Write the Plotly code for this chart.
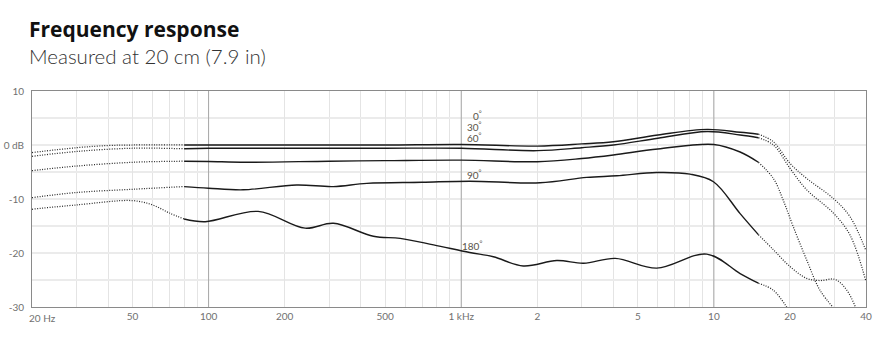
import numpy as np
import plotly.graph_objects as go

# ---------------- data ----------------
X_TICKS = [20, 50, 100, 200, 500, 1000, 2000, 5000, 10000, 20000, 40000]
X_TICK_LABELS = ["20 Hz", "50", "100", "200", "500", "1 kHz", "2", "5", "10", "20", "40"]
X_MINOR = [30, 40, 60, 70, 80, 90, 300, 400, 600, 700, 800, 900,
           3000, 4000, 6000, 7000, 8000, 9000, 30000]
X_MAJOR_GRID = [100, 1000, 10000]
Y_TICKS = [10, 0, -10, -20, -30]
Y_TICK_LABELS = ["10", "0 dB", "-10", "-20", "-30"]

SOLID_LO, SOLID_HI = 80, 15000   # measured (solid) range, dotted outside

F_0 = [20, 30, 40, 50, 80, 100, 200, 500, 1000, 2000, 3000, 4000, 6000, 9400,
       12700, 15000, 17200, 20000, 23300, 29700, 34600, 40000]
DB_0 = [-1.4, -0.5, -0.1, 0.0, 0.0, 0.0, 0.0, 0.0, 0.1, -0.2, 0.2, 0.6, 1.85, 2.9,
        2.35, 2.0, 0.6, -3.4, -6.2, -9.9, -13.3, -19.6]

F_30 = [20, 30, 50, 80, 100, 200, 500, 1000, 2000, 3000, 4000, 6000, 9400,
        12700, 15000, 17200, 20000, 23300, 29700, 34600, 40000]
DB_30 = [-2.1, -1.2, -0.6, -0.7, -0.6, -0.6, -0.6, -0.6, -1.05, -0.5, 0.0, 1.25, 2.5,
         1.85, 1.35, 0.0, -4.3, -8.3, -12.6, -16.7, -25.3]

F_60 = [20, 30, 50, 80, 100, 140, 300, 500, 1000, 2000, 3000, 4000, 6000, 10000,
        12700, 15000, 17200, 18800, 20600, 23300, 26300, 30200]
DB_60 = [-4.75, -3.9, -3.2, -3.0, -3.05, -3.2, -3.0, -2.9, -2.8, -3.1, -2.5, -1.85, -0.75, 0.1,
         -1.3, -3.2, -6.2, -10.2, -15.1, -21.3, -26.9, -30.5]

F_90 = [20, 30, 50, 80, 100, 137, 223, 311, 423, 700, 1080, 2050, 3140, 4130, 5940,
        8050, 9960, 12700, 15000, 17200, 20000, 23300, 26300, 30200, 33600, 36700]
DB_90 = [-9.75, -8.8, -8.2, -7.7, -8.0, -8.3, -7.4, -7.7, -7.1, -6.9, -6.7, -7.0, -6.0, -5.7, -5.1,
         -5.4, -6.8, -12.7, -16.6, -19.4, -22.5, -24.7, -25.1, -24.9, -26.9, -30.5]

F_180 = [20, 30, 50, 60, 70, 80, 97, 157, 241, 312, 449, 573, 777, 1080, 1340, 1760,
         2390, 3050, 4070, 5940, 9370, 12700, 15000, 17200, 19700]
DB_180 = [-11.9, -11.1, -10.3, -11.1, -12.6, -13.7, -14.2, -12.3, -15.4, -14.5, -16.9, -17.3,
          -18.5, -19.9, -20.7, -22.4, -21.4, -21.9, -21.0, -22.8, -20.2, -23.8, -25.6, -26.9, -30.5]

CURVE_F = [F_0, F_30, F_60, F_90, F_180]
CURVE_DB = [DB_0, DB_30, DB_60, DB_90, DB_180]
LABEL_TEXT = ["0", "30", "60", "90", "180"]
LABEL_DB = [5.4, 3.4, 1.4, -5.55, -18.7]
LABEL_F = 1230

TITLE = "Frequency response"
SUBTITLE = "Measured at 20 cm (7.9 in)"

# ---------------- geometry helpers ----------------
W, H = 885, 353
ML, MR, MT, MB = 32, 19, 91, 46
PW, PH = W - ML - MR, H - MT - MB


def px_x(px):
    return (px - ML) / PW


def px_y(py):
    return (H - MB - py) / PH


FONT = "Lato, 'Open Sans', sans-serif"

fig = go.Figure()

# darker decade grid lines
gx, gy = [], []
for f in X_MAJOR_GRID:
    gx += [f, f, None]
    gy += [-30, 10, None]
fig.add_trace(go.Scatter(x=gx, y=gy, mode="lines", line=dict(color="#a8a8a8", width=1),
                         hoverinfo="skip", showlegend=False))

for f_arr, db_arr in zip(CURVE_F, CURVE_DB):
    f_arr = np.array(f_arr, float)
    db_arr = np.array(db_arr, float)
    lo = f_arr <= SOLID_LO
    mid = (f_arr >= SOLID_LO) & (f_arr <= SOLID_HI)
    hi = f_arr >= SOLID_HI
    for mask, solid in ((lo, False), (mid, True), (hi, False)):
        if mask.sum() < 2:
            continue
        fig.add_trace(go.Scatter(
            x=f_arr[mask], y=db_arr[mask], mode="lines",
            line=dict(color="#1a1a1a" if solid else "#2a2a2a",
                      width=1.4 if solid else 1.25,
                      dash="solid" if solid else "1px,1.5px",
                      shape="spline", smoothing=1.0),
            hoverinfo="skip", showlegend=False))

ann = []
for t, d in zip(LABEL_TEXT, LABEL_DB):
    ann.append(dict(x=np.log10(LABEL_F), y=d, xref="x", yref="y",
                    text=t + "<sup>°</sup>", showarrow=False, xanchor="right",
                    yanchor="middle", font=dict(family=FONT, size=10, color="#5a5448")))

ann.append(dict(x=px_x(27), y=px_y(28.5), xref="paper", yref="paper", text="<b>" + TITLE + "</b>",
                showarrow=False, xanchor="left", yanchor="middle",
                font=dict(family="'Open Sans', Lato, sans-serif", size=21, color="#111111", weight=800)))
ann.append(dict(x=px_x(27), y=px_y(55.5), xref="paper", yref="paper", text=SUBTITLE,
                showarrow=False, xanchor="left", yanchor="middle",
                font=dict(family=FONT, size=20.5, color="#333333", weight=300)))
# first x tick label is left-aligned at the axis start
ann.append(dict(x=px_x(27), y=px_y(318), xref="paper", yref="paper", text=X_TICK_LABELS[0],
                showarrow=False, xanchor="left", yanchor="middle",
                font=dict(family=FONT, size=10, color="#707070")))

fig.update_layout(
    width=W, height=H,
    margin=dict(l=ML, r=MR, t=MT, b=MB, autoexpand=False),
    paper_bgcolor="white", plot_bgcolor="white",
    showlegend=False,
    annotations=ann,
    xaxis=dict(type="log", range=[np.log10(20), np.log10(40000)], automargin=False,
               tickmode="array", tickvals=X_TICKS, ticktext=[""] + X_TICK_LABELS[1:],
               showgrid=True, gridcolor="#e4e4e4", gridwidth=1,
               minor=dict(tickmode="array", tickvals=X_MINOR, showgrid=True,
                          gridcolor="#e4e4e4", gridwidth=1, ticks=""),
               ticks="", showline=True, mirror=True, linecolor="#8a8a8a", linewidth=1,
               zeroline=False,
               tickfont=dict(family=FONT, size=10, color="#707070")),
    yaxis=dict(range=[-30, 10], tickmode="array", tickvals=Y_TICKS, ticktext=Y_TICK_LABELS,
               automargin=False,
               showgrid=True, gridcolor="#ebebeb", gridwidth=1.5,
               minor=dict(dtick=5, showgrid=True, gridcolor="#ebebeb", gridwidth=1.5, ticks=""),
               ticks="", showline=True, mirror=True, linecolor="#8a8a8a", linewidth=1,
               zeroline=False, ticklabelstandoff=5,
               tickfont=dict(family=FONT, size=10, color="#707070")),
)

fig.write_html("out.html")
